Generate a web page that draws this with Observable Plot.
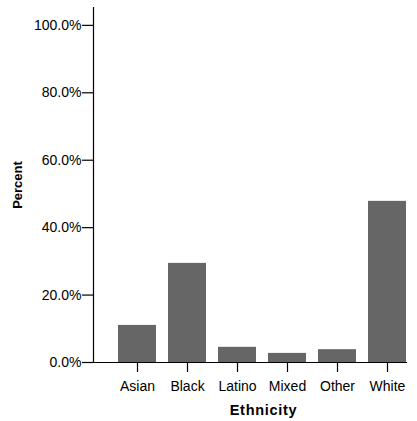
<!DOCTYPE html>
<html><head><meta charset="utf-8">
<script src="https://cdn.jsdelivr.net/npm/d3@7"></script>
<script src="https://cdn.jsdelivr.net/npm/@observablehq/plot@0.6"></script>
<style>
body{margin:0;background:#fff;}
svg{font-family:"Liberation Sans",Arial,sans-serif;}
</style>
</head><body>
<div id="chart"></div>
<script>
const categories = ["Asian","Black","Latino","Mixed","Other","White"];
const percents = [11.0, 29.4, 4.5, 2.7, 3.8, 47.8];
const yTicks = [0,20,40,60,80,100];
const xTitle = "Ethnicity";
const yTitle = "Percent";
const data = categories.map((c,i)=>({ethnicity:c, percent:percents[i]}));

const chart = Plot.plot({
  width: 417, height: 421,
  marginTop: 7, marginBottom: 59, marginLeft: 93, marginRight: 11,
  style: {fontSize: "14px", fontFamily: "Liberation Sans, Arial, sans-serif", color: "#000", background: "#fff"},
  x: {domain: categories, paddingInner: 0.24, paddingOuter: 0.25, align: 1},
  y: {domain: [0, 105.3]},
  marks: [
    Plot.barY(data, {x: "ethnicity", y: "percent", fill: "#666666"}),
    Plot.frame({anchor: "left", stroke: "#000", strokeWidth: 1.2}),
    Plot.frame({anchor: "bottom", stroke: "#000", strokeWidth: 1.2}),
    Plot.axisY({ticks: yTicks, tickFormat: d => d.toFixed(1) + "%", tickSize: 11, tickPadding: 1,
      label: yTitle, labelAnchor: "center", labelArrow: "none", labelOffset: 81, stroke: "#000", strokeOpacity: 1, strokeWidth: 1.2}),
    Plot.axisX({tickSize: 10, tickPadding: 9, label: null, stroke: "#000", strokeOpacity: 1, strokeWidth: 1.2}),
    Plot.text([xTitle], {frameAnchor: "bottom", lineAnchor: "bottom", dy: 52, dx: 13.5, fontWeight: "bold", fontSize: 14.5, fill: "#000"})
  ]
});
chart.querySelectorAll('[aria-label="y-axis label"] text').forEach(t=>{t.style.fontWeight="bold";t.style.fontSize="13px";});
chart.querySelectorAll('text').forEach(t=>{ if (t.textContent === xTitle) t.style.letterSpacing = "0.7px"; });
document.getElementById("chart").appendChild(chart);
</script>
</body></html>
